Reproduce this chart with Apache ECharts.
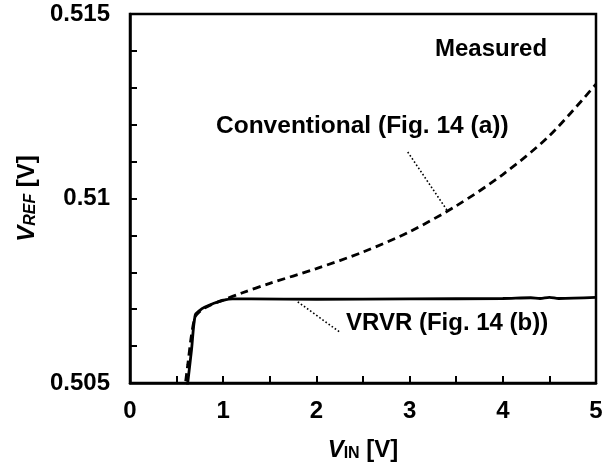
<!DOCTYPE html>
<html><head><meta charset="utf-8">
<script src="https://cdn.jsdelivr.net/npm/echarts@6/dist/echarts.min.js"></script>
<style>html,body{margin:0;padding:0;background:#fff}#c{width:613px;height:468px}</style>
</head><body><div id="c"></div>
<script>
// Data
const convX = [0.58, 0.62, 0.66, 0.70, 0.75, 0.80, 0.90, 1.00, 1.20, 1.50, 2.00, 2.50, 3.00, 3.50, 4.00, 4.50, 5.00];
const convY = [0.5047, 0.5055, 0.5063, 0.50680, 0.50694, 0.50703, 0.50715, 0.50725, 0.50744, 0.50770, 0.50810, 0.50855, 0.50910, 0.50980, 0.51065, 0.51170, 0.51310];
const vrvrX = [0.61, 0.66, 0.70, 0.75, 0.80, 0.90, 1.00, 1.10, 1.30, 2.00, 3.00, 4.00, 4.30, 4.40, 4.50, 4.60, 5.00];
const vrvrY = [0.5048, 0.5059, 0.50684, 0.50697, 0.50705, 0.50716, 0.50724, 0.50728, 0.50728, 0.50727, 0.50728, 0.50729, 0.50731, 0.50729, 0.50732, 0.50729, 0.50732];
const xTicks = [0, 1, 2, 3, 4, 5];
const yTicks = [0.505, 0.51, 0.515];
const convLeader = [[2.98, 0.51126], [3.41, 0.50965]];
const vrvrLeader = [[1.80, 0.50720], [2.25, 0.50638]];

const FONT = 'Liberation Sans, Arial, sans-serif';
const chart = echarts.init(document.getElementById('c'), null, {renderer: 'canvas'});
const zip = (a, b) => a.map((v, i) => [v, b[i]]);
const axisLine = {show: true, lineStyle: {color: '#000', width: 2.5}};
const tick = {show: true, inside: true, length: 7, lineStyle: {color: '#000', width: 2}};

chart.setOption({
  animation: false,
  grid: {left: 130, right: 17, top: 14, bottom: 85, show: true, borderColor: '#000', borderWidth: 2.5, backgroundColor: 'transparent'},
  xAxis: {
    type: 'value', min: xTicks[0], max: xTicks[xTicks.length - 1], interval: 1,
    axisLine, axisTick: tick,
    minorTick: {show: true, splitNumber: 2, length: 7, lineStyle: {color: '#000', width: 2}},
    splitLine: {show: false},
    axisLabel: {color: '#000', fontFamily: FONT, fontWeight: 'bold', fontSize: 24, margin: 16},
    name: '{i|V}{s|IN}{n| [V]}', nameLocation: 'middle', nameGap: 55,
    nameTextStyle: {rich: {
      i: {fontFamily: FONT, fontWeight: 'bold', fontStyle: 'italic', fontSize: 24, color: '#000'},
      s: {fontFamily: FONT, fontWeight: 'bold', fontSize: 16, color: '#000', padding: [8, 0, 0, 0]},
      n: {fontFamily: FONT, fontWeight: 'bold', fontSize: 24, color: '#000'}
    }}
  },
  yAxis: {
    type: 'value', min: yTicks[0], max: yTicks[yTicks.length - 1], interval: 0.005,
    axisLine, axisTick: tick,
    minorTick: {show: true, splitNumber: 5, length: 7, lineStyle: {color: '#000', width: 2}},
    splitLine: {show: false},
    axisLabel: {color: '#000', fontFamily: FONT, fontWeight: 'bold', fontSize: 24, margin: 20,
      formatter: v => String(+v.toFixed(3))},
    name: '{i|V}{s|REF}{n| [V]}', nameLocation: 'middle', nameGap: 90, nameRotate: 90,
    nameTextStyle: {rich: {
      i: {fontFamily: FONT, fontWeight: 'bold', fontStyle: 'italic', fontSize: 24, color: '#000'},
      s: {fontFamily: FONT, fontWeight: 'bold', fontStyle: 'italic', fontSize: 16, color: '#000', padding: [8, 0, 0, 0]},
      n: {fontFamily: FONT, fontWeight: 'bold', fontSize: 24, color: '#000'}
    }}
  },
  series: [
    {
      name: 'Conventional', type: 'line', data: zip(convX, convY), showSymbol: false, smooth: 0.3, clip: true,
      lineStyle: {color: '#000', width: 2.8, type: [8, 5]},
      markLine: {silent: true, symbol: 'none', label: {show: false},
        lineStyle: {color: '#000', width: 1.6, type: [1.6, 2.2]},
        data: [[{coord: convLeader[0]}, {coord: convLeader[1]}]]}
    },
    {
      name: 'VRVR', type: 'line', data: zip(vrvrX, vrvrY), showSymbol: false, smooth: 0.3, clip: true,
      lineStyle: {color: '#000', width: 2.8},
      markLine: {silent: true, symbol: 'none', label: {show: false},
        lineStyle: {color: '#000', width: 1.6, type: [1.6, 2.2]},
        data: [[{coord: vrvrLeader[0]}, {coord: vrvrLeader[1]}]]}
    }
  ],
  graphic: [
    {type: 'text', left: 435, top: 37, style: {text: 'Measured', fill: '#000', font: 'bold 24px ' + FONT}},
    {type: 'text', left: 216, top: 114, style: {text: 'Conventional (Fig. 14 (a))', fill: '#000', font: 'bold 24.5px ' + FONT}},
    {type: 'text', left: 346, top: 311, style: {text: 'VRVR (Fig. 14 (b))', fill: '#000', font: 'bold 24px ' + FONT}}
  ]
});
</script></body></html>
